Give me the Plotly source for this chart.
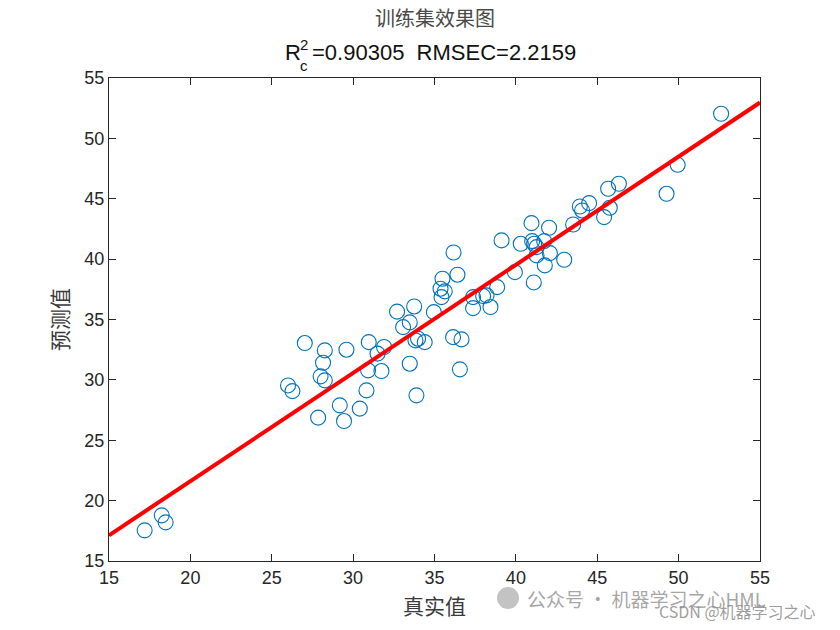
import plotly.graph_objects as go

# ---- data ----
true_vals = [17.19, 18.24, 18.48, 26.00, 26.27, 27.03, 27.85, 28.00, 28.15, 28.26,
             28.26, 29.18, 29.44, 29.59, 30.41, 30.82, 30.92, 30.96, 31.50, 31.74,
             31.90, 32.70, 33.07, 33.48, 33.48, 33.75, 33.83, 33.89, 33.99, 34.40,
             34.96, 35.37, 35.43, 35.49, 35.63, 36.14, 36.17, 36.41, 36.56, 36.66,
             37.37, 37.37, 37.99, 38.20, 38.44, 38.85, 39.12, 39.94, 40.30, 40.96,
             41.00, 41.12, 41.10, 41.27, 41.27, 41.74, 41.78, 42.04, 42.09, 42.97,
             43.52, 43.93, 44.07, 44.50, 45.42, 45.67, 45.77, 46.33, 49.26, 49.94,
             52.61]
pred_vals = [17.54, 18.78, 18.20, 29.54, 29.07, 33.05, 26.87, 30.29, 31.42, 29.96,
             32.44, 27.89, 26.59, 32.50, 27.62, 29.13, 30.79, 33.13, 32.17, 30.73,
             32.72, 35.65, 34.37, 34.76, 31.34, 36.08, 33.27, 28.72, 33.41, 33.13,
             35.61, 37.55, 36.85, 38.38, 37.33, 33.54, 40.55, 38.71, 30.87, 33.35,
             36.85, 35.94, 36.94, 37.00, 36.03, 37.68, 41.55, 38.92, 41.27, 42.98,
             41.49, 41.27, 38.07, 40.99, 40.31, 41.49, 39.48, 42.60, 40.50, 39.95,
             42.87, 44.36, 44.03, 44.64, 43.48, 45.83, 44.25, 46.24, 45.41, 47.81,
             52.04]
fit_x = [15, 55]
fit_y = [17.13, 52.97]

x_ticks = [15, 20, 25, 30, 35, 40, 45, 50, 55]
y_ticks = [15, 20, 25, 30, 35, 40, 45, 50, 55]

title_cn = "训练集效果图"
r2_text = "=0.90305  RMSEC=2.2159"
x_label = "真实值"
y_label = "预测值"

# ---- layout constants ----
W, H = 840, 630
L, R, T, B = 109, 80, 78, 69
pw, ph = W - L - R, H - T - B

def px(xp):
    return (xp - L) / pw

def py(yp):
    return 1 + (T - yp) / ph

axis_col = "#262626"
cn_font = "Noto Sans CJK SC"
lat_font = "Liberation Sans, Arial"

fig = go.Figure()
fig.add_trace(go.Scatter(
    x=true_vals, y=pred_vals, mode="markers",
    marker=dict(symbol="circle-open", size=15, color="#0072BD",
                line=dict(width=1.1, color="#0072BD")),
    showlegend=False, cliponaxis=False))
fig.add_trace(go.Scatter(
    x=fit_x, y=fit_y, mode="lines",
    line=dict(color="#FF0000", width=4), showlegend=False))

axis_common = dict(
    showline=True, linecolor=axis_col, linewidth=1, mirror="ticks",
    ticks="inside", ticklen=7, tickwidth=1, tickcolor=axis_col,
    showgrid=False, zeroline=False,
    tickfont=dict(family=lat_font, size=18, color=axis_col),
)
fig.update_xaxes(range=[15, 55], tickvals=x_ticks, ticktext=[str(v) for v in x_ticks],
                 title=dict(text=x_label, font=dict(family=cn_font, size=21, color="#3a3a3a"),
                            standoff=12), **axis_common)
fig.update_yaxes(range=[15, 55], tickvals=y_ticks, ticktext=[str(v) for v in y_ticks],
                 title=dict(text=y_label, font=dict(family=cn_font, size=21, color="#3a3a3a"),
                            standoff=10), **axis_common)

ann = []
ann.append(dict(text=title_cn, x=0.5, y=py(18), xref="paper", yref="paper",
                xanchor="center", yanchor="middle", showarrow=False,
                font=dict(family=cn_font, size=20, color="#4a4a4a")))
ann.append(dict(text="R", x=px(283), y=py(52), xref="paper", yref="paper",
                xanchor="left", yanchor="middle", showarrow=False,
                font=dict(family=lat_font, size=22, color="#111111")))
ann.append(dict(text="2", x=px(297.5), y=py(45), xref="paper", yref="paper",
                xanchor="left", yanchor="middle", showarrow=False,
                font=dict(family=lat_font, size=15, color="#111111")))
ann.append(dict(text="c", x=px(297.5), y=py(66), xref="paper", yref="paper",
                xanchor="left", yanchor="middle", showarrow=False,
                font=dict(family=lat_font, size=15, color="#111111")))
ann.append(dict(text=r2_text, x=px(310), y=py(52), xref="paper", yref="paper",
                xanchor="left", yanchor="middle", showarrow=False,
                font=dict(family=lat_font, size=22, color="#111111")))
# watermark
ann.append(dict(text="公众号 · 机器学习之心HML", x=px(525), y=py(598), xref="paper", yref="paper",
                xanchor="left", yanchor="middle", showarrow=False,
                font=dict(family=cn_font, size=19, color="rgba(150,150,150,0.85)")))
ann.append(dict(text="CSDN @机器学习之心", x=px(818), y=py(611), xref="paper", yref="paper",
                xanchor="right", yanchor="middle", showarrow=False,
                font=dict(family=cn_font, size=16, color="rgba(140,140,140,0.85)")))

fig.update_layout(
    width=W, height=H, margin=dict(l=L, r=R, t=T, b=B, autoexpand=False),
    paper_bgcolor="white", plot_bgcolor="white",
    annotations=ann,
    shapes=[dict(type="circle", xref="paper", yref="paper",
                 x0=px(497), x1=px(519), y0=py(609), y1=py(587),
                 fillcolor="rgba(170,170,170,0.7)", line=dict(width=0))],
)

fig.write_html("out.html")
